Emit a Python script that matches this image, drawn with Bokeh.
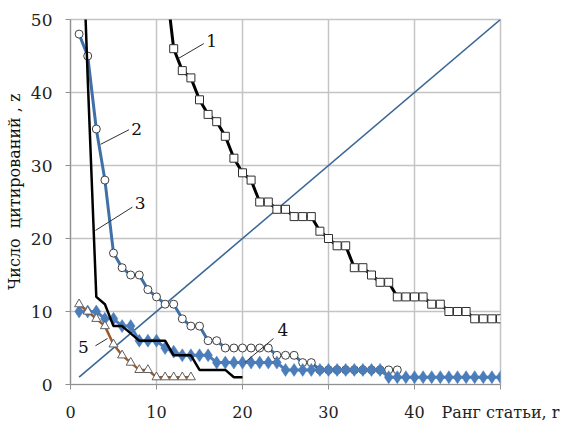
from bokeh.plotting import figure
from bokeh.models import Range1d, FixedTicker, Label
from bokeh.embed import file_html
from bokeh.resources import INLINE

# ---- data ----
r1 = list(range(11, 51))
z1 = [56, 46, 43, 42, 39, 37, 36, 34, 31, 29,
      28, 25, 25, 24, 24, 23, 23, 23, 21, 20,
      19, 19, 16, 16, 15, 14, 14, 12, 12, 12,
      12, 11, 11, 10, 10, 10, 9, 9, 9, 9]

r2 = list(range(1, 39))
z2 = [48, 45, 35, 28, 18, 16, 15, 15, 13, 12,
      11, 11, 9, 8, 8, 6, 6, 5, 5, 5,
      5, 5, 5, 4, 4, 4, 3, 3, 2, 2,
      2, 2, 2, 2, 2, 2, 2, 2]

r3 = list(range(1, 21))
z3 = [75, 42, 12, 11, 8, 8, 7, 6, 6, 6,
      6, 4, 4, 4, 2, 2, 2, 2, 1, 1]

r4 = list(range(1, 51))
z4 = [10, 10, 10, 9, 9, 8, 8, 6, 6, 6,
      5, 4.5, 4, 4, 4, 4, 3, 3, 3, 3,
      3, 3, 3, 3, 2, 2, 2, 2, 2, 2,
      2, 2, 2, 2, 2, 2, 1, 1, 1, 1,
      1, 1, 1, 1, 1, 1, 1, 1, 1, 1]

r5 = list(range(1, 15))
z5 = [11, 10, 9, 8, 5.5, 4, 3, 2, 2, 1, 1, 1, 1, 1]

r_diag = [1, 50]
z_diag = [1, 50]

x_ticks = [0, 10, 20, 30, 40, 50]
y_ticks = [0, 10, 20, 30, 40, 50]
x_title = "Ранг статьи, r"
y_title = "\u00a0\u00a0\u00a0\u00a0Число \u00a0цитирований , z"

# curve number labels and leader lines
num_labels = ["1", "2", "3", "4", "5"]
num_x = [16.4, 7.7, 8.1, 24.7, 1.5]
num_y = [47.0, 35.0, 24.8, 7.4, 5.1]
lead_x0 = [12.6, 3.5, 2.9, 20.3, 4.3]
lead_y0 = [44.7, 32.9, 21.1, 3.05, 6.3]
lead_x1 = [15.5, 6.8, 7.2, 23.6, 2.9]
lead_y1 = [46.7, 34.9, 24.3, 6.3, 5.3]

SERIF = "DejaVu Serif"

p = figure(width=564, height=424, output_backend="svg", toolbar_location=None,
           x_range=Range1d(0, 50), y_range=Range1d(0, 50),
           min_border_left=70, min_border_right=64, min_border_top=19,
           min_border_bottom=40)
p.background_fill_color = "white"
p.border_fill_color = "white"
p.outline_line_color = "#c4c4c4"
p.outline_line_width = 1.5

for ax in (p.xaxis[0], p.yaxis[0]):
    ax.axis_line_color = "#909090"
    ax.axis_line_width = 1.2
    ax.major_tick_line_color = "#909090"
    ax.major_tick_out = 5
    ax.major_tick_in = 0
    ax.minor_tick_line_color = None
    ax.major_label_text_font = SERIF
    ax.major_label_text_color = "#222222"

p.yaxis.major_label_text_font_size = "17px"
p.xaxis.major_label_text_font_size = "16px"

p.xaxis.ticker = FixedTicker(ticks=x_ticks)
p.yaxis.ticker = FixedTicker(ticks=y_ticks)
p.xaxis.major_label_overrides = {50: x_title}
p.xaxis.major_label_standoff = 13
p.yaxis.major_label_standoff = 13

p.yaxis.axis_label = y_title
p.yaxis.axis_label_text_font = SERIF
p.yaxis.axis_label_text_font_size = "16px"
p.yaxis.axis_label_text_font_style = "normal"
p.yaxis.axis_label_text_color = "#111111"
p.yaxis.axis_label_standoff = 4

p.xgrid.ticker = FixedTicker(ticks=x_ticks)
p.ygrid.ticker = FixedTicker(ticks=y_ticks)
p.grid.grid_line_color = "#c4c4c4"
p.grid.grid_line_width = 1.5

# diagonal z = r
p.line(r_diag, z_diag, line_color="#3b6795", line_width=1.6)

# series 2 (blue line, white circles)
p.line(r2, z2, line_color="#3f70a8", line_width=3)
p.scatter(r2, z2, marker="circle", size=8, fill_color="white",
          line_color="#404040", line_width=1)

# series 4 (blue diamonds)
p.line(r4, z4, line_color="#4a7dba", line_width=3)
p.scatter(r4, z4, marker="diamond", size=13, fill_color="#4a7dba",
          line_color="#4a7dba", line_width=0.5)

# series 5 (brown line, white triangles)
p.line(r5, z5, line_color="#9e5a2c", line_width=2.5)
p.scatter(r5, z5, marker="triangle", size=9, fill_color="white",
          line_color="#606060", line_width=1)

# series 3 (black line)
p.line(r3, z3, line_color="black", line_width=2.5)

# series 1 (black thick line, white squares)
p.line(r1, z1, line_color="black", line_width=3)
p.scatter(r1, z1, marker="square", size=8, fill_color="white",
          line_color="#303030", line_width=1)

# leader lines and curve numbers
p.segment(lead_x0, lead_y0, lead_x1, lead_y1, line_color="#303030", line_width=1)
for t, x, y in zip(num_labels, num_x, num_y):
    p.add_layout(Label(x=x, y=y, text=t, text_font=SERIF, text_font_size="17px",
                       text_align="center", text_baseline="middle",
                       text_color="#111111"))

open("out.html", "w").write(file_html(p, INLINE))
